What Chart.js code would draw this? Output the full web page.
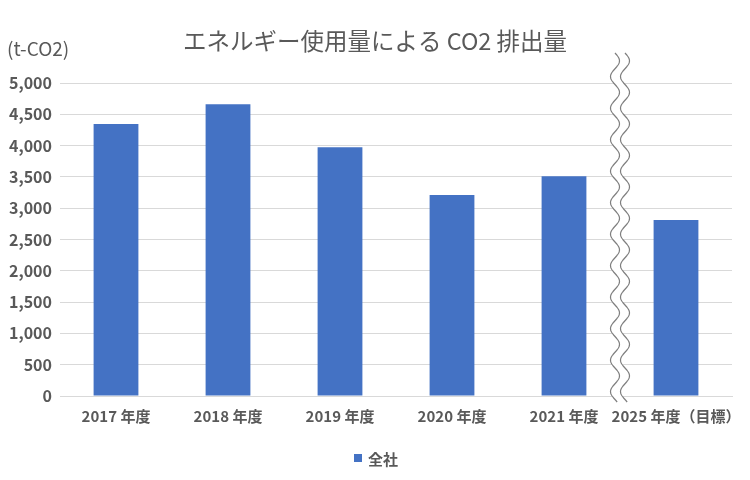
<!DOCTYPE html>
<html>
<head>
<meta charset="utf-8">
<script src="https://cdn.jsdelivr.net/npm/chart.js@4"></script>
<style>
  html, body { margin: 0; padding: 0; background: #fff; }
  #wrap { width: 750px; height: 480px; }
</style>
</head>
<body>
<div id="wrap"><canvas id="co2Chart"></canvas></div>
<script>
const years = ['2017 年度', '2018 年度', '2019 年度', '2020 年度', '2021 年度', '2025 年度（目標）'];
const emissions = [4345, 4660, 3975, 3210, 3510, 2810];
const seriesName = '全社';
const chartTitle = 'エネルギー使用量による CO2 排出量';
const unitLabel = '(t-CO2)';

const textColor = '#595959';
const fontFamily = '"Noto Sans CJK JP", "Noto Sans", sans-serif';

// titles, unit label, legend and the wavy axis break
const decoPlugin = {
    id: 'deco',
    afterDatasetsDraw(chart) {
        const ctx = chart.ctx;
        const x = chart.scales.x;
        const mid = (x.getPixelForValue(4) + x.getPixelForValue(5)) / 2;
        const top = 53, bottom = 402, amp = 4.5, period = 31.5, half = 5;
        const wx = (y, off) => mid + off + amp * Math.sin((y - top) / period * 2 * Math.PI);

        ctx.save();
        ctx.beginPath();
        for (let y = top; y <= bottom; y++) {
            y === top ? ctx.moveTo(wx(y, -half), y) : ctx.lineTo(wx(y, -half), y);
        }
        for (let y = bottom; y >= top; y--) ctx.lineTo(wx(y, half), y);
        ctx.closePath();
        ctx.fillStyle = '#fff';
        ctx.fill();
        ctx.strokeStyle = '#7f7f7f';
        ctx.lineWidth = 1.2;
        [-half, half].forEach(off => {
            ctx.beginPath();
            for (let y = top; y <= bottom; y++) {
                y === top ? ctx.moveTo(wx(y, off), y) : ctx.lineTo(wx(y, off), y);
            }
            ctx.stroke();
        });

        ctx.fillStyle = textColor;
        ctx.textBaseline = 'middle';
        ctx.textAlign = 'center';
        ctx.font = '23.5px ' + fontFamily;
        ctx.fillText(chartTitle, 375, 41);

        ctx.textAlign = 'left';
        ctx.font = '19px ' + fontFamily;
        ctx.fillText(unitLabel, 7, 49);

        const ds = chart.data.datasets[0];
        ctx.font = 'bold 15px ' + fontFamily;
        const tw = ctx.measureText(ds.label).width;
        const lx = 376 - (tw + 14) / 2;
        ctx.fillStyle = ds.backgroundColor;
        ctx.fillRect(lx, 454, 8, 8);
        ctx.fillStyle = textColor;
        ctx.fillText(ds.label, lx + 14, 459);
        ctx.restore();
    }
};

const ctx = document.getElementById('co2Chart').getContext('2d');
const co2Chart = new Chart(ctx, {
    type: 'bar',
    data: {
        labels: years,
        datasets: [{
            label: seriesName,
            data: emissions,
            backgroundColor: '#4472C4',
            categoryPercentage: 1,
            barPercentage: 0.4
        }]
    },
    options: {
        animation: false,
        responsive: true,
        maintainAspectRatio: false,
        layout: { padding: { top: 83, right: 18, left: 0, bottom: 0 } },
        plugins: {
            legend: { display: false },
            title: { display: false },
            tooltip: { enabled: false }
        },
        scales: {
            x: {
                grid: { display: false },
                border: { color: '#d9d9d9' },
                ticks: {
                    color: textColor,
                    font: { family: fontFamily, size: 15, weight: 'bold' },
                    padding: 3,
                    autoSkip: false,
                    maxRotation: 0
                },
                afterFit: s => { s.height = 84; }
            },
            y: {
                min: 0,
                max: 5000,
                ticks: {
                    stepSize: 500,
                    color: textColor,
                    font: { family: fontFamily, size: 16, weight: 'bold' },
                    padding: 8
                },
                grid: { color: '#d9d9d9', drawTicks: false },
                border: { display: false },
                afterFit: s => { s.width = 60; }
            }
        }
    },
    plugins: [decoPlugin]
});
</script>
</body>
</html>
